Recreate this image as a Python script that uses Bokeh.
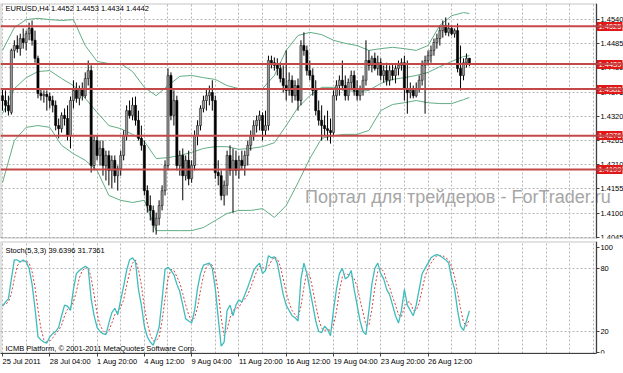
from bokeh.plotting import figure
from bokeh.models import (ColumnDataSource, FixedTicker, Span, Label, Range1d, Grid,
                          PrintfTickFormatter, LinearAxis, BoxAnnotation)
from bokeh.layouts import column
from bokeh.embed import file_html
from bokeh.resources import INLINE

# ---------------- data ----------------
opens = [1.4367, 1.4356, 1.4345, 1.4329, 1.4470, 1.4481, 1.4474, 1.4497, 1.4488, 1.4508,
         1.4520, 1.4493, 1.4452, 1.4372, 1.4367, 1.4370, 1.4365, 1.4356, 1.4345, 1.4299,
         1.4292, 1.4322, 1.4315, 1.4276, 1.4356, 1.4379, 1.4361, 1.4383, 1.4367, 1.4406,
         1.4424, 1.4208, 1.4265, 1.4231, 1.4247, 1.4208, 1.4231, 1.4197, 1.4220, 1.4185,
         1.4201, 1.4231, 1.4276, 1.4333, 1.4322, 1.4345, 1.4311, 1.4270, 1.4254, 1.4151,
         1.4117, 1.4106, 1.4072, 1.4088, 1.4117, 1.4151, 1.4208, 1.4413, 1.4322, 1.4356,
         1.4208, 1.4231, 1.4185, 1.4220, 1.4178, 1.4208, 1.4276, 1.4299, 1.4338, 1.4356,
         1.4367, 1.4374, 1.4356, 1.4192, 1.4185, 1.4140, 1.4163, 1.4231, 1.4197, 1.4220,
         1.4197, 1.4220, 1.4208, 1.4231, 1.4254, 1.4276, 1.4299, 1.4311, 1.4322, 1.4288,
         1.4299, 1.4447, 1.4442, 1.4436, 1.4429, 1.4406, 1.4390, 1.4379, 1.4402, 1.4367,
         1.4390, 1.4356, 1.4481, 1.4470, 1.4424, 1.4413, 1.4379, 1.4333, 1.4311, 1.4299,
         1.4292, 1.4288, 1.4283, 1.4367, 1.4390, 1.4402, 1.4390, 1.4367, 1.4397, 1.4413,
         1.4379, 1.4367, 1.4383, 1.4402, 1.4447, 1.4436, 1.4452, 1.4429, 1.4442, 1.4413,
         1.4424, 1.4402, 1.4424, 1.4413, 1.4429, 1.4436, 1.4442, 1.4383, 1.4374, 1.4379,
         1.4367, 1.4383, 1.4402, 1.4436, 1.4447, 1.4458, 1.4470, 1.4488, 1.4497, 1.4515,
         1.4527, 1.4511, 1.4520, 1.4508, 1.4515, 1.4429, 1.4413, 1.4442, 1.4452]
highs = [1.4383, 1.4379, 1.4367, 1.4474, 1.4493, 1.4504, 1.4508, 1.4520, 1.4515, 1.4533,
         1.4538, 1.4515, 1.4458, 1.4383, 1.4379, 1.4379, 1.4374, 1.4367, 1.4356, 1.4315,
         1.4329, 1.4338, 1.4345, 1.4365, 1.4402, 1.4397, 1.4390, 1.4397, 1.4420, 1.4447,
         1.4436, 1.4276, 1.4276, 1.4265, 1.4265, 1.4242, 1.4242, 1.4231, 1.4231, 1.4208,
         1.4242, 1.4288, 1.4345, 1.4356, 1.4363, 1.4365, 1.4333, 1.4299, 1.4265, 1.4163,
         1.4140, 1.4117, 1.4101, 1.4129, 1.4163, 1.4220, 1.4429, 1.4420, 1.4379, 1.4367,
         1.4242, 1.4247, 1.4231, 1.4242, 1.4220, 1.4288, 1.4311, 1.4345, 1.4367, 1.4383,
         1.4390, 1.4402, 1.4367, 1.4220, 1.4197, 1.4174, 1.4242, 1.4254, 1.4247, 1.4242,
         1.4231, 1.4242, 1.4242, 1.4265, 1.4288, 1.4311, 1.4322, 1.4333, 1.4329, 1.4333,
         1.4458, 1.4458, 1.4454, 1.4452, 1.4442, 1.4436, 1.4470, 1.4420, 1.4413, 1.4402,
         1.4406, 1.4493, 1.4511, 1.4481, 1.4447, 1.4429, 1.4402, 1.4356, 1.4345, 1.4322,
         1.4333, 1.4315, 1.4379, 1.4402, 1.4413, 1.4447, 1.4413, 1.4406, 1.4424, 1.4424,
         1.4402, 1.4390, 1.4413, 1.4493, 1.4470, 1.4458, 1.4465, 1.4458, 1.4452, 1.4436,
         1.4442, 1.4436, 1.4440, 1.4436, 1.4447, 1.4452, 1.4458, 1.4447, 1.4397, 1.4390,
         1.4397, 1.4413, 1.4447, 1.4458, 1.4470, 1.4481, 1.4497, 1.4508, 1.4527, 1.4538,
         1.4545, 1.4533, 1.4527, 1.4520, 1.4531, 1.4481, 1.4452, 1.4463, 1.4453]
lows = [1.4333, 1.4329, 1.4322, 1.4324, 1.4452, 1.4465, 1.4458, 1.4474, 1.4470, 1.4493,
        1.4481, 1.4442, 1.4361, 1.4356, 1.4351, 1.4333, 1.4338, 1.4329, 1.4288, 1.4270,
        1.4283, 1.4299, 1.4265, 1.4247, 1.4338, 1.4351, 1.4345, 1.4356, 1.4361, 1.4390,
        1.4192, 1.4197, 1.4220, 1.4208, 1.4185, 1.4174, 1.4163, 1.4156, 1.4169, 1.4151,
        1.4185, 1.4220, 1.4265, 1.4315, 1.4311, 1.4299, 1.4265, 1.4242, 1.4140, 1.4101,
        1.4083, 1.4056, 1.4051, 1.4072, 1.4106, 1.4140, 1.4197, 1.4311, 1.4299, 1.4197,
        1.4185, 1.4129, 1.4174, 1.4163, 1.4169, 1.4197, 1.4254, 1.4288, 1.4329, 1.4333,
        1.4345, 1.4333, 1.4178, 1.4163, 1.4129, 1.4117, 1.4140, 1.4185, 1.4101, 1.4185,
        1.4178, 1.4197, 1.4185, 1.4208, 1.4242, 1.4265, 1.4283, 1.4288, 1.4265, 1.4276,
        1.4288, 1.4429, 1.4424, 1.4413, 1.4397, 1.4374, 1.4356, 1.4367, 1.4351, 1.4356,
        1.4333, 1.4345, 1.4458, 1.4413, 1.4402, 1.4367, 1.4322, 1.4299, 1.4265, 1.4276,
        1.4265, 1.4258, 1.4276, 1.4356, 1.4367, 1.4379, 1.4356, 1.4356, 1.4383, 1.4367,
        1.4356, 1.4356, 1.4367, 1.4390, 1.4424, 1.4420, 1.4424, 1.4413, 1.4402, 1.4397,
        1.4390, 1.4390, 1.4402, 1.4395, 1.4413, 1.4424, 1.4356, 1.4326, 1.4361, 1.4361,
        1.4363, 1.4374, 1.4390, 1.4326, 1.4436, 1.4442, 1.4458, 1.4474, 1.4481, 1.4499,
        1.4504, 1.4502, 1.4504, 1.4499, 1.4420, 1.4379, 1.4402, 1.4431, 1.4434]
closes = [1.4356, 1.4345, 1.4333, 1.4470, 1.4481, 1.4474, 1.4497, 1.4488, 1.4508, 1.4520,
          1.4493, 1.4452, 1.4372, 1.4367, 1.4370, 1.4365, 1.4356, 1.4345, 1.4299, 1.4292,
          1.4322, 1.4315, 1.4276, 1.4356, 1.4379, 1.4361, 1.4383, 1.4367, 1.4406, 1.4424,
          1.4208, 1.4265, 1.4231, 1.4247, 1.4208, 1.4231, 1.4197, 1.4220, 1.4185, 1.4201,
          1.4231, 1.4276, 1.4333, 1.4322, 1.4345, 1.4311, 1.4270, 1.4254, 1.4151, 1.4117,
          1.4106, 1.4072, 1.4088, 1.4117, 1.4151, 1.4208, 1.4413, 1.4322, 1.4356, 1.4208,
          1.4231, 1.4185, 1.4220, 1.4178, 1.4208, 1.4276, 1.4299, 1.4338, 1.4356, 1.4367,
          1.4374, 1.4356, 1.4192, 1.4185, 1.4140, 1.4163, 1.4231, 1.4197, 1.4220, 1.4197,
          1.4220, 1.4208, 1.4231, 1.4254, 1.4276, 1.4299, 1.4311, 1.4322, 1.4288, 1.4299,
          1.4447, 1.4442, 1.4436, 1.4429, 1.4406, 1.4390, 1.4379, 1.4402, 1.4367, 1.4390,
          1.4356, 1.4481, 1.4470, 1.4424, 1.4413, 1.4379, 1.4333, 1.4311, 1.4299, 1.4292,
          1.4288, 1.4283, 1.4367, 1.4390, 1.4402, 1.4390, 1.4367, 1.4397, 1.4413, 1.4379,
          1.4367, 1.4383, 1.4402, 1.4447, 1.4436, 1.4452, 1.4429, 1.4442, 1.4413, 1.4424,
          1.4402, 1.4424, 1.4413, 1.4429, 1.4436, 1.4442, 1.4383, 1.4374, 1.4379, 1.4367,
          1.4383, 1.4402, 1.4436, 1.4447, 1.4458, 1.4470, 1.4488, 1.4497, 1.4515, 1.4527,
          1.4511, 1.4520, 1.4508, 1.4515, 1.4429, 1.4413, 1.4442, 1.4452, 1.4442]

band_bars = [0, 4, 8, 12, 16, 20, 24, 28, 32, 36, 40, 44, 48, 52, 56, 60, 64, 68, 72, 76,
             80, 84, 88, 92, 96, 100, 104, 108, 112, 116, 120, 124, 128, 132, 136, 140,
             144, 148, 152, 156, 158]
bb_upper = [1.4470, 1.4522, 1.4540, 1.4543, 1.4540, 1.4538, 1.4540, 1.4481, 1.4445, 1.4440,
            1.4440, 1.4422, 1.4386, 1.4367, 1.4390, 1.4411, 1.4413, 1.4408, 1.4404, 1.4390,
            1.4383, 1.4383, 1.4383, 1.4413, 1.4470, 1.4504, 1.4511, 1.4506, 1.4493, 1.4486,
            1.4481, 1.4470, 1.4474, 1.4477, 1.4474, 1.4470, 1.4481, 1.4527, 1.4549, 1.4556,
            1.4554]
bb_middle = [1.4326, 1.4383, 1.4408, 1.4422, 1.4424, 1.4406, 1.4390, 1.4361, 1.4329, 1.4299,
             1.4292, 1.4279, 1.4263, 1.4224, 1.4226, 1.4231, 1.4238, 1.4247, 1.4251, 1.4251,
             1.4245, 1.4247, 1.4251, 1.4260, 1.4299, 1.4340, 1.4367, 1.4386, 1.4386, 1.4379,
             1.4376, 1.4379, 1.4395, 1.4404, 1.4408, 1.4413, 1.4420, 1.4433, 1.4445, 1.4456,
             1.4458]
bb_lower = [1.4169, 1.4265, 1.4295, 1.4299, 1.4295, 1.4254, 1.4235, 1.4220, 1.4197, 1.4140,
            1.4129, 1.4124, 1.4129, 1.4060, 1.4060, 1.4060, 1.4060, 1.4067, 1.4083, 1.4099,
            1.4106, 1.4106, 1.4110, 1.4090, 1.4117, 1.4169, 1.4224, 1.4270, 1.4276, 1.4279,
            1.4279, 1.4288, 1.4333, 1.4347, 1.4351, 1.4356, 1.4351, 1.4349, 1.4349, 1.4358,
            1.4363]

stoch_main = [44, 48, 51, 70, 88, 88, 86, 88, 86, 80,
              65, 42, 15, 12, 10, 9, 15, 18, 20, 24,
              35, 45, 44, 40, 60, 75, 78, 80, 82, 80,
              51, 35, 24, 20, 18, 17, 28, 38, 42, 36,
              50, 63, 78, 88, 90, 86, 60, 45, 25, 15,
              10, 7, 15, 24, 50, 79, 81, 78, 74, 65,
              58, 45, 32, 30, 28, 40, 61, 75, 83, 84,
              85, 80, 61, 33, 6, 10, 40, 45, 35, 45,
              50, 48, 55, 62, 70, 78, 82, 85, 75, 78,
              92, 90, 91, 85, 70, 55, 45, 40, 35, 33,
              30, 70, 85, 75, 60, 45, 30, 20, 19, 25,
              22, 16, 40, 60, 75, 80, 70, 72, 78, 60,
              45, 30, 20, 17, 40, 65, 80, 85, 75, 70,
              60, 55, 45, 35, 28, 40, 60, 45, 40, 35,
              45, 60, 75, 80, 85, 90, 92, 93, 92, 90,
              88, 85, 70, 60, 40, 25, 21, 30, 39.6396]
stoch_signal = [45, 46, 48, 56, 70, 82, 87, 87, 87, 85,
                77, 62, 41, 23, 12, 10, 11, 14, 18, 21,
                26, 35, 41, 43, 48, 58, 71, 78, 80, 81,
                71, 55, 37, 26, 21, 18, 21, 28, 36, 39,
                43, 50, 64, 76, 85, 88, 79, 64, 43, 28,
                17, 11, 11, 15, 30, 51, 70, 79, 78, 72,
                66, 56, 45, 36, 30, 33, 43, 59, 73, 81,
                84, 83, 75, 58, 33, 16, 22, 33, 40, 42,
                43, 48, 51, 55, 62, 70, 77, 82, 81, 79,
                82, 87, 91, 89, 82, 70, 57, 47, 40, 36,
                33, 44, 62, 77, 73, 60, 45, 32, 23, 21,
                22, 21, 26, 39, 58, 72, 75, 74, 73, 70,
                63, 50, 38, 26, 26, 41, 62, 77, 80, 77,
                68, 62, 53, 45, 36, 34, 43, 48, 48, 40,
                40, 47, 60, 72, 80, 85, 89, 92, 92, 92,
                90, 88, 81, 72, 57, 42, 29, 25, 31.7361]

level_lines = [1.4525, 1.4439, 1.4382, 1.4276, 1.4199]
price_ticks = [1.4045, 1.4100, 1.4155, 1.4210, 1.4265, 1.4320, 1.4375, 1.4430, 1.4485, 1.4540]
stoch_ticks = [0, 20, 80, 100]
date_bars = [0, 16, 32, 48, 64, 80, 96, 112, 128, 144]
date_labels = ["25 Jul 2011", "28 Jul 04:00", "1 Aug 20:00", "4 Aug 12:00", "9 Aug 04:00",
               "11 Aug 20:00", "16 Aug 12:00", "19 Aug 04:00", "23 Aug 20:00", "26 Aug 12:00"]

# ---------------- styling ----------------
FONT = "Liberation Sans"
AX = "#404040"
GRID = "#b8b8b8"
RED = "#e01818"
X0, XAX, X1 = -0.68, 201.0, 210.15      # frame left, price-axis position, frame right
x_range = Range1d(X0, X1)
grid_bars = list(range(0, 201, 8))
P_LO, P_HI = 1.40421, 1.45767
S_LO, S_HI = -0.9, 105.5

n = len(closes)
idx = list(range(n))
up = [i for i in idx if closes[i] >= opens[i]]
dn = [i for i in idx if closes[i] < opens[i]]
src_up = ColumnDataSource(dict(x=up, top=[closes[i] for i in up], bottom=[opens[i] for i in up]))
src_dn = ColumnDataSource(dict(x=dn, top=[opens[i] for i in dn], bottom=[closes[i] for i in dn]))


def style_axis(a):
    a.major_label_text_font = FONT
    a.major_label_text_font_size = "7.5px"
    a.major_label_text_color = "black"
    a.major_tick_out = 3
    a.major_tick_in = 0
    a.minor_tick_out = 0
    a.minor_tick_in = 0
    a.major_label_standoff = 1
    a.axis_line_color = AX
    a.major_tick_line_color = AX


def hide_default_grids(p):
    for r in list(p.center):
        if isinstance(r, Grid):
            r.visible = False


# ---------------- price panel ----------------
p1 = figure(width=623, height=241, x_range=x_range, y_range=Range1d(P_LO, P_HI),
            output_backend="svg", toolbar_location=None, x_axis_location=None,
            y_axis_location=None, min_border_left=0, min_border_right=0,
            min_border_top=3, min_border_bottom=3)
p1.outline_line_color = None
hide_default_grids(p1)
p1.add_layout(Grid(dimension=1, ticker=FixedTicker(ticks=price_ticks),
                   grid_line_color=GRID, grid_line_dash="2 2"))
p1.add_layout(Grid(dimension=0, ticker=FixedTicker(ticks=grid_bars),
                   grid_line_color=GRID, grid_line_dash="2 2"))
p1.add_layout(BoxAnnotation(left=XAX, fill_color="white", fill_alpha=1.0,
                            line_color=None, level="underlay"))

yax = LinearAxis(fixed_location=XAX, ticker=FixedTicker(ticks=price_ticks),
                 formatter=PrintfTickFormatter(format="%.4f"))
style_axis(yax)
p1.add_layout(yax, "right")

# red price tags of the horizontal levels: a second axis whose thick ticks form the boxes
lax = LinearAxis(fixed_location=XAX, ticker=FixedTicker(ticks=level_lines),
                 formatter=PrintfTickFormatter(format="%.4f"))
lax.axis_line_color = None
lax.major_tick_in = 0
lax.major_tick_out = 26
lax.minor_tick_out = 0
lax.minor_tick_in = 0
lax.major_tick_line_color = RED
lax.major_tick_line_width = 9
lax.major_tick_line_cap = "butt"
lax.major_label_standoff = -24
lax.major_label_text_font = FONT
lax.major_label_text_font_size = "7.5px"
lax.major_label_text_color = "white"
p1.add_layout(lax, "right")

# watermark
p1.add_layout(Label(x=102.4, y=1.41376, text="Портал для трейдеров - ForTrader.ru",
                    text_font=FONT, text_font_size="18px", text_color="#a6a6a6",
                    text_baseline="middle", level="underlay"))

# bollinger bands
for band in (bb_upper, bb_middle, bb_lower):
    p1.line(band_bars, band, line_color="#62ad84", line_width=1)

# level lines
for lv in level_lines:
    p1.add_layout(Span(location=lv, dimension="width", line_color="#c44848", line_width=2))

# candles
p1.segment(x0=idx, y0=lows, x1=idx, y1=highs, line_color="black", line_width=1)
p1.vbar(x="x", top="top", bottom="bottom", width=0.72, source=src_up,
        fill_color="#9a9a9a", line_color="#202020", line_width=0.6)
p1.vbar(x="x", top="top", bottom="bottom", width=0.72, source=src_dn,
        fill_color="black", line_color="black", line_width=0.6)

# frame outline (left of the price axis)
p1.add_layout(BoxAnnotation(left=X0, right=XAX, top=P_HI, bottom=P_LO, fill_color=None,
                            fill_alpha=0, line_color=AX, line_width=2))

p1.add_layout(Label(x=1.0, y=1.4565, text="EURUSD,H4  1.4452 1.4453 1.4434 1.4442",
                    text_font=FONT, text_font_size="7.5px", text_color="black",
                    text_baseline="middle"))

# ---------------- stochastic panel ----------------
p2 = figure(width=623, height=132, x_range=x_range, y_range=Range1d(S_LO, S_HI),
            output_backend="svg", toolbar_location=None, y_axis_location=None,
            min_border_left=0, min_border_right=0, min_border_top=0, min_border_bottom=15)
p2.outline_line_color = None
hide_default_grids(p2)
p2.add_layout(Grid(dimension=1, ticker=FixedTicker(ticks=[20, 80]),
                   grid_line_color=GRID, grid_line_dash="2 2"))
p2.add_layout(Grid(dimension=0, ticker=FixedTicker(ticks=grid_bars),
                   grid_line_color=GRID, grid_line_dash="2 2"))
p2.add_layout(BoxAnnotation(left=XAX, fill_color="white", fill_alpha=1.0,
                            line_color=None, level="underlay"))

sax = LinearAxis(fixed_location=XAX, ticker=FixedTicker(ticks=stoch_ticks))
style_axis(sax)
p2.add_layout(sax, "right")

axx = p2.xaxis[0]
axx.ticker = FixedTicker(ticks=date_bars)
axx.major_label_overrides = {b: t for b, t in zip(date_bars, date_labels)}
style_axis(axx)
axx.bounds = (X0, XAX)
axx.major_label_orientation = -0.0001
axx.major_label_standoff = 5

p2.line(idx, stoch_signal, line_color="#d84040", line_width=1, line_dash="2 2")
p2.line(idx, stoch_main, line_color="#3fbcbc", line_width=1.3)

p2.add_layout(BoxAnnotation(left=X0, right=XAX, top=S_HI, bottom=S_LO, fill_color=None,
                            fill_alpha=0, line_color=AX, line_width=2))

p2.add_layout(Label(x=1.0, y=97.2, text="Stoch(5,3,3) 39.6396 31.7361", text_font=FONT,
                    text_font_size="7.5px", text_color="black", text_baseline="middle"))
p2.add_layout(Label(x=1.0, y=4.0, text="ICMB Platform, © 2001-2011 MetaQuotes Software Corp.",
                    text_font=FONT, text_font_size="7.5px", text_color="black",
                    text_baseline="middle"))

layout = column(p1, p2, spacing=0)
open("out.html", "w").write(file_html(layout, INLINE))
